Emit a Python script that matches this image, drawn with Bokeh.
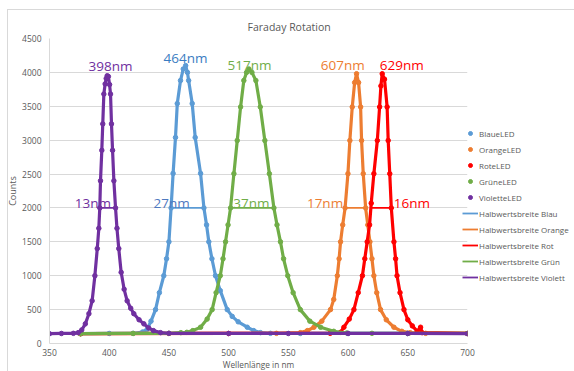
from bokeh.plotting import figure
from bokeh.models import Range1d, Legend, LegendItem, ColumnDataSource, FixedTicker
from bokeh.core.properties import value
from bokeh.embed import file_html
from bokeh.resources import INLINE

# ---------------- data ----------------
x_ticks = [350, 400, 450, 500, 550, 600, 650, 700]
y_ticks = [0, 500, 1000, 1500, 2000, 2500, 3000, 3500, 4000, 4500]

blue_wl = [376, 400, 420, 428, 431.8, 435, 438.8, 442, 445.7, 448,
           450, 451.8, 453.5, 455.5, 457, 459.7, 462, 464, 465.5, 466.5,
           469.5, 472, 476.5, 479.3, 481.5, 483.4, 486, 489, 493, 498.8,
           503, 508, 515.6, 521, 526.7, 535, 560, 600, 650, 700]
blue_ct = [145, 148, 150, 170, 210, 330, 500, 750, 1000, 1250,
           1500, 2000, 2510, 3040, 3540, 3880, 4050, 4100, 4000, 3880,
           3540, 3040, 2510, 2000, 1750, 1500, 1250, 1000, 780, 500,
           400, 320, 240, 190, 160, 150, 148, 148, 148, 148]

orange_wl = [376, 450, 540, 560, 566, 571.4, 578, 585.3, 588, 591,
             592.5, 593.7, 595.5, 597.5, 599.9, 601.5, 603.5, 605.5, 607.1, 608.8,
             610.5, 611.3, 612.7, 614.7, 616.5, 618.3, 620, 621.6, 624, 627.2,
             632, 638.4, 645, 652, 665, 700]
orange_ct = [145, 148, 150, 160, 190, 240, 330, 500, 650, 1000,
             1250, 1500, 1750, 2000, 2505, 2995, 3490, 3850, 3980, 3850,
             3490, 2995, 2505, 2000, 1750, 1500, 1250, 1000, 750, 500,
             350, 240, 180, 160, 150, 148]

red_wl = [376, 500, 585, 593.7, 596.5, 601, 604.9, 608.5, 612, 614,
          616, 618, 619.4, 621.6, 624.5, 626.4, 627.5, 628.6, 630.5, 632.7,
          633.6, 634.9, 636.2, 638.4, 639.8, 641, 643.5, 646.8, 650, 653.8,
          658, 660.7, 662, 700]
red_ct = [145, 148, 150, 165, 240, 360, 500, 750, 1000, 1250,
          1500, 1750, 2070, 2505, 2995, 3490, 3800, 3980, 3900, 3490,
          2995, 2505, 2000, 1500, 1250, 1000, 750, 500, 350, 260,
          180, 240, 160, 148]

green_wl = [376, 420, 450, 460, 465, 470, 476.5, 482, 486.2, 489.5,
            493, 495.3, 497.4, 499.5, 501.6, 504.4, 507.2, 510, 512.7, 515,
            517, 519.5, 522.8, 526.5, 530.3, 534.1, 537.9, 540.5, 543.4, 546,
            549.5, 554, 560, 568, 577, 588, 599, 620, 650, 700]
green_ct = [145, 148, 150, 160, 165, 190, 240, 360, 500, 750,
            1000, 1250, 1500, 1750, 2000, 2505, 2995, 3490, 3880, 4000,
            4050, 4000, 3880, 3490, 2995, 2505, 2000, 1750, 1500, 1250,
            1000, 750, 500, 330, 240, 180, 155, 150, 148, 148]

violet_wl = [350, 360, 370, 374, 377, 380, 383, 385.7, 388, 390,
             391.3, 392.1, 392.7, 393.8, 394.6, 395.5, 396.6, 397.5, 398.3, 399.3,
             400.3, 401.1, 401.9, 402.8, 403.9, 405.3, 406.5, 408, 410, 412.5,
             415, 418, 420.6, 425, 429, 433, 437, 443, 450, 500,
             550, 600, 650, 700]
violet_ct = [145, 148, 150, 160, 200, 290, 440, 630, 1000, 1400,
             1700, 2000, 2400, 2850, 3240, 3680, 3830, 3910, 3950, 3940,
             3820, 3680, 3240, 2850, 2400, 2000, 1700, 1400, 1050, 800,
             630, 520, 440, 350, 290, 230, 190, 160, 150, 148,
             148, 148, 148, 145]

# half-width (FWHM) segments at half maximum
fwhm_level = [2000, 2000]
fwhm_blue_wl = [451.8, 479.3]
fwhm_orange_wl = [597.5, 614.7]
fwhm_red_wl = [619.8, 636.2]
fwhm_green_wl = [501.6, 537.9]
fwhm_violet_wl = [392.1, 405.3]

# annotations
peak_text = ["398nm", "464nm", "517nm", "607nm", "629nm"]
peak_text_wl = [401.1, 463.9, 517.5, 595.6, 645.0]
peak_text_ct = [4087, 4205, 4116, 4102, 4102]
fwhm_text = ["13nm", "27nm", "37nm", "17nm", "16nm"]
fwhm_text_wl = [386.4, 452.2, 519.1, 580.7, 653.5]
fwhm_text_ct = [2066, 2066, 2066, 2066, 2066]

# ---------------- styling ----------------
BLUE, ORANGE, RED, GREEN, VIOLET = "#5B9BD5", "#ED7D31", "#FF0000", "#70AD47", "#7030A0"
GRAY = "#595959"
FONT = "Open Sans"

p = figure(frame_width=418, frame_height=305,
           x_range=Range1d(350, 700), y_range=Range1d(0, 4500),
           output_backend="svg", toolbar_location=None,
           min_border_left=49, min_border_right=107, min_border_top=38, min_border_bottom=28,
           background_fill_color="white", border_fill_color="white", border_fill_alpha=0,
           outline_line_color=None)
# thin chart-area border (left and top edges, like the reference)
p.styles = {
    "background-image": "linear-gradient(#d9d9d9,#d9d9d9), linear-gradient(#d9d9d9,#d9d9d9)",
    "background-size": "1px 362px, 567px 1px",
    "background-position": "7px 9px, 7px 9px",
    "background-repeat": "no-repeat",
}

p.title.text = "Faraday Rotation"
p.title.text_font = FONT
p.title.text_font_size = "10.5px"
p.title.text_font_style = "normal"
p.title.text_color = GRAY
p.title.align = "left"
p.title.offset = 198
p.title.standoff = 9

for ax in (p.xaxis, p.yaxis):
    ax.axis_line_color = "#d9d9d9"
    ax.major_tick_line_color = None
    ax.minor_tick_line_color = None
    ax.major_tick_out = 0
    ax.major_tick_in = 0
    ax.minor_tick_out = 0
    ax.minor_tick_in = 0
    ax.major_label_text_font = FONT
    ax.major_label_text_font_size = "8.5px"
    ax.major_label_text_color = GRAY
    ax.axis_label_text_font = FONT
    ax.axis_label_text_font_style = "normal"
    ax.axis_label_text_color = GRAY
    ax.axis_label_standoff = 0

p.xaxis.ticker = FixedTicker(ticks=x_ticks)
p.yaxis.ticker = FixedTicker(ticks=y_ticks)
p.xaxis.major_label_standoff = 5
p.yaxis.major_label_standoff = 8
p.xaxis.axis_label = "Wellenlänge in nm"
p.xaxis.axis_label_text_font_size = "8.3px"
p.yaxis.axis_label = "Counts"
p.yaxis.axis_label_text_font_size = "9px"

p.xgrid.grid_line_color = None
p.ygrid.ticker = FixedTicker(ticks=y_ticks)
p.ygrid.grid_line_color = "#d9d9d9"

series = [
    ("BlaueLED", blue_wl, blue_ct, BLUE),
    ("OrangeLED", orange_wl, orange_ct, ORANGE),
    ("RoteLED", red_wl, red_ct, RED),
    ("GrüneLED", green_wl, green_ct, GREEN),
    ("VioletteLED", violet_wl, violet_ct, VIOLET),
]
items = []
for name, wl, ct, col in series:
    src = ColumnDataSource(dict(x=wl, y=ct))
    p.line("x", "y", source=src, line_color=col, line_width=3.2)
    r = p.scatter("x", "y", source=src, size=4.5, fill_color=col, line_color=col)
    items.append(LegendItem(label=name, renderers=[r]))

fwhm = [
    ("Halbwertsbreite Blau", fwhm_blue_wl, BLUE),
    ("Halbwertsbreite Orange", fwhm_orange_wl, ORANGE),
    ("Halbwertsbreite Rot", fwhm_red_wl, RED),
    ("Halbwertsbreite Grün", fwhm_green_wl, GREEN),
    ("Halbwertsbreite Violett", fwhm_violet_wl, VIOLET),
]
for name, wl, col in fwhm:
    r = p.line(wl, fwhm_level, line_color=col, line_width=1.8)
    items.append(LegendItem(label=name, renderers=[r]))

peak_src = ColumnDataSource(dict(x=peak_text_wl, y=peak_text_ct, t=peak_text,
                                 c=[VIOLET, "#3A7CC2", GREEN, ORANGE, RED]))
p.text("x", "y", text="t", source=peak_src, text_color="c", text_font=value(FONT),
       text_font_size="13.5px", text_align="center", text_baseline="middle")
fwhm_src = ColumnDataSource(dict(x=fwhm_text_wl, y=fwhm_text_ct, t=fwhm_text,
                                 c=[VIOLET, "#4F79C0", GREEN, ORANGE, RED]))
p.text("x", "y", text="t", source=fwhm_src, text_color="c", text_font=value(FONT),
       text_font_size="13.5px", text_align="center", text_baseline="middle")

legend = Legend(items=items, location=(-5, 58), orientation="vertical",
                glyph_width=16, glyph_height=10, label_height=16, spacing=0,
                padding=0, margin=0, label_standoff=1,
                label_text_font=FONT, label_text_font_size="8px", label_text_color=GRAY,
                background_fill_alpha=0, border_line_color=None)
p.add_layout(legend, "right")

open("out.html", "w").write(file_html(p, INLINE))
